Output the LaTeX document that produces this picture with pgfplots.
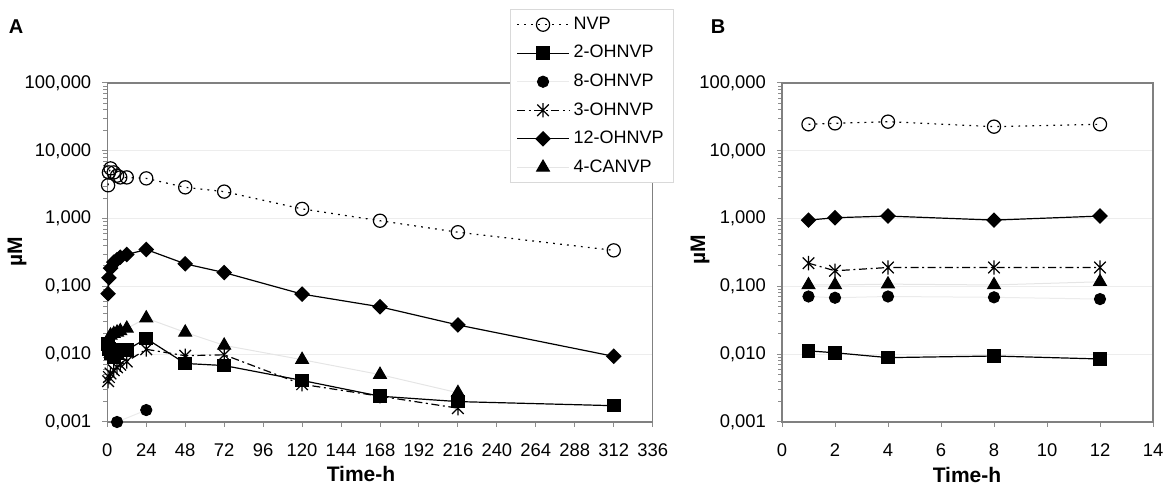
\documentclass[border=0pt]{standalone}
\usepackage{fontspec}
\setmainfont{Liberation Sans}
\usepackage{pgfplots}
\usepackage{pgfplotstable}
\pgfplotsset{compat=1.18}

% asterisk as in the original: an X with a vertical bar
\pgfdeclareplotmark{xstar}{%
  \pgfpathmoveto{\pgfpoint{0pt}{\pgfplotmarksize}}%
  \pgfpathlineto{\pgfpoint{0pt}{-\pgfplotmarksize}}%
  \pgfpathmoveto{\pgfpoint{-0.8\pgfplotmarksize}{0.8\pgfplotmarksize}}%
  \pgfpathlineto{\pgfpoint{0.8\pgfplotmarksize}{-0.8\pgfplotmarksize}}%
  \pgfpathmoveto{\pgfpoint{-0.8\pgfplotmarksize}{-0.8\pgfplotmarksize}}%
  \pgfpathlineto{\pgfpoint{0.8\pgfplotmarksize}{0.8\pgfplotmarksize}}%
  \pgfusepathqstroke}
% square diamond (Excel style)
\pgfdeclareplotmark{sqdiamond}{%
  \pgfpathmoveto{\pgfpoint{0pt}{\pgfplotmarksize}}%
  \pgfpathlineto{\pgfpoint{\pgfplotmarksize}{0pt}}%
  \pgfpathlineto{\pgfpoint{0pt}{-\pgfplotmarksize}}%
  \pgfpathlineto{\pgfpoint{-\pgfplotmarksize}{0pt}}%
  \pgfpathclose
  \pgfusepathqfillstroke}

% panel A: time course up to 312 h
\pgfplotstableread{
t    nvp   oh2     oh8    oh3    oh12   ca4
0.5  3.10  0.0140  nan    0.0040 0.078  0.0130
1    4.80  0.0120  nan    0.0046 0.134  0.0160
2    5.50  0.0105  nan    0.0052 0.186  0.0190
4    4.80  0.0090  nan    0.0058 0.228  0.0200
6    4.30  0.0105  0.0010 0.0064 0.247  0.0210
8    4.05  0.0115  nan    0.0070 0.270  0.0220
12   4.05  0.0115  nan    0.0078 0.295  0.0240
24   3.92  0.0170  0.0015 0.0118 0.350  0.0340
48   2.89  0.0073  nan    0.0095 0.215  0.0210
72   2.50  0.0068  nan    0.0098 0.160  0.0135
120  1.39  0.0041  nan    0.0036 0.077  0.0083
168  0.93  0.0024  nan    0.0024 0.050  0.0050
216  0.63  0.0020  nan    0.0016 0.027  0.0027
312  0.34  0.00174 nan    nan    0.0093 nan
}\dataA

% panel B: first 12 h
\pgfplotstableread{
t   nvp   oh2     oh8    oh3   oh12  ca4
1   24.6  0.0112  0.071  0.22  0.95  0.105
2   25.4  0.0105  0.068  0.17  1.03  0.105
4   26.9  0.0089  0.071  0.19  1.09  0.108
8   22.7  0.0094  0.069  0.19  0.95  0.105
12  24.6  0.0085  0.065  0.19  1.09  0.117
}\dataB

\pgfplotsset{
  snvp/.style={black, line width=0.6pt, dash pattern=on 0.9pt off 2.6pt,
    mark=o, mark size=3.3pt, mark options={solid, fill=white}},
  soh2/.style={black, line width=0.6pt, mark=square*, mark size=3.1pt, mark options={solid}},
  soh8/.style={black!8, line width=0.5pt, mark=*, mark size=2.8pt,
    mark options={solid, draw=black, fill=black}},
  soh3/.style={black, line width=0.6pt, dash pattern=on 4pt off 1.8pt on 1pt off 1.8pt,
    mark=xstar, mark size=3.6pt, mark options={solid}},
  soh12/.style={black, line width=0.6pt, mark=sqdiamond, mark size=3.5pt, mark options={solid}},
  sca4/.style={black!10, line width=0.5pt, mark=triangle*, mark size=3.7pt,
    mark options={solid, draw=black, fill=black}},
}

\begin{document}
\begin{tikzpicture}
\useasboundingbox (0,0) rectangle (581.5pt,243.5pt);

\begin{axis}[at={(53.65pt,32.5pt)}, anchor=south west,
  scale only axis, width=272.7pt, height=169.5pt,
  xmin=0, xmax=336, xtick={0,24,...,336},
  ymode=log, ymin=0.001, ymax=100,
  ytick={0.001,0.01,0.1,1,10,100},
  yticklabels={{0,001},{0,010},{0,100},{1,000},{10,000},{100,000}},
  minor ytick={0.002,0.003,0.004,0.005,0.006,0.007,0.008,0.009,
               0.02,0.03,0.04,0.05,0.06,0.07,0.08,0.09,
               0.2,0.3,0.4,0.5,0.6,0.7,0.8,0.9,
               2,3,4,5,6,7,8,9,20,30,40,50,60,70,80,90},
  ymajorgrids, major grid style={black!7, line width=0.5pt},
  axis line style={black!50, line width=0.7pt},
  tick style={black!45, line width=0.5pt},
  tick align=outside, major tick length=2.5pt, minor tick length=2pt,
  xtick pos=bottom, ytick pos=left,
  tick label style={font=\fontsize{9.2}{10}\selectfont},
  /pgf/number format/assume math mode=true,
  xticklabel style={yshift=-5pt}, yticklabel style={xshift=-2pt},
  clip=false,
  legend style={at={(0.7384,1.2183)}, anchor=north west, draw=black!15, fill=white,
    font=\fontsize{9}{10}\selectfont, inner xsep=3pt, inner ysep=1.8pt, row sep=2.5pt,
    nodes={inner xsep=2pt}},
  legend cell align=left,
  legend image code/.code={%
    \draw[mark repeat=2, mark phase=2, #1] plot coordinates {(0pt,0pt) (13pt,0pt) (26pt,0pt)};},
]
\addplot[snvp]  table[x=t, y=nvp]  {\dataA};
\addplot[soh2]  table[x=t, y=oh2]  {\dataA};
\addplot[soh8]  table[x=t, y=oh8]  {\dataA};
\addplot[soh3]  table[x=t, y=oh3]  {\dataA};
\addplot[soh12] table[x=t, y=oh12] {\dataA};
\addplot[sca4]  table[x=t, y=ca4]  {\dataA};
\legend{NVP, 2-OHNVP, 8-OHNVP, 3-OHNVP, 12-OHNVP, 4-CANVP}
\end{axis}

\begin{axis}[at={(391pt,32.5pt)}, anchor=south west,
  scale only axis, width=185.5pt, height=169.5pt,
  xmin=0, xmax=14, xtick={0,2,...,14},
  ymode=log, ymin=0.001, ymax=100,
  ytick={0.001,0.01,0.1,1,10,100},
  yticklabels={{0,001},{0,010},{0,100},{1,000},{10,000},{100,000}},
  minor ytick={0.002,0.003,0.004,0.005,0.006,0.007,0.008,0.009,
               0.02,0.03,0.04,0.05,0.06,0.07,0.08,0.09,
               0.2,0.3,0.4,0.5,0.6,0.7,0.8,0.9,
               2,3,4,5,6,7,8,9,20,30,40,50,60,70,80,90},
  ymajorgrids, major grid style={black!7, line width=0.5pt},
  axis line style={black!50, line width=0.7pt},
  tick style={black!45, line width=0.5pt},
  tick align=outside, major tick length=2.5pt, minor tick length=2pt,
  xtick pos=bottom, ytick pos=left,
  tick label style={font=\fontsize{9.2}{10}\selectfont},
  /pgf/number format/assume math mode=true,
  xticklabel style={yshift=-5pt}, yticklabel style={xshift=-2pt},
  clip=false,
]
\addplot[snvp]  table[x=t, y=nvp]  {\dataB};
\addplot[soh2]  table[x=t, y=oh2]  {\dataB};
\addplot[soh8]  table[x=t, y=oh8]  {\dataB};
\addplot[soh3]  table[x=t, y=oh3]  {\dataB};
\addplot[soh12] table[x=t, y=oh12] {\dataB};
\addplot[sca4]  table[x=t, y=ca4]  {\dataB};
\end{axis}

\node[font=\bfseries\fontsize{10}{11}\selectfont] at (8pt,230pt) {A};
\node[font=\bfseries\fontsize{10}{11}\selectfont] at (359pt,230pt) {B};
\node[font=\bfseries\fontsize{10.5}{11}\selectfont, rotate=90] at (8.5pt,117.5pt) {µM};
\node[font=\bfseries\fontsize{10.5}{11}\selectfont, rotate=90] at (350pt,118.5pt) {µM};
\node[font=\bfseries\fontsize{10.5}{11}\selectfont] at (180.5pt,6.5pt) {Time-h};
\node[font=\bfseries\fontsize{10.5}{11}\selectfont] at (483.5pt,6pt) {Time-h};
\end{tikzpicture}
\end{document}
